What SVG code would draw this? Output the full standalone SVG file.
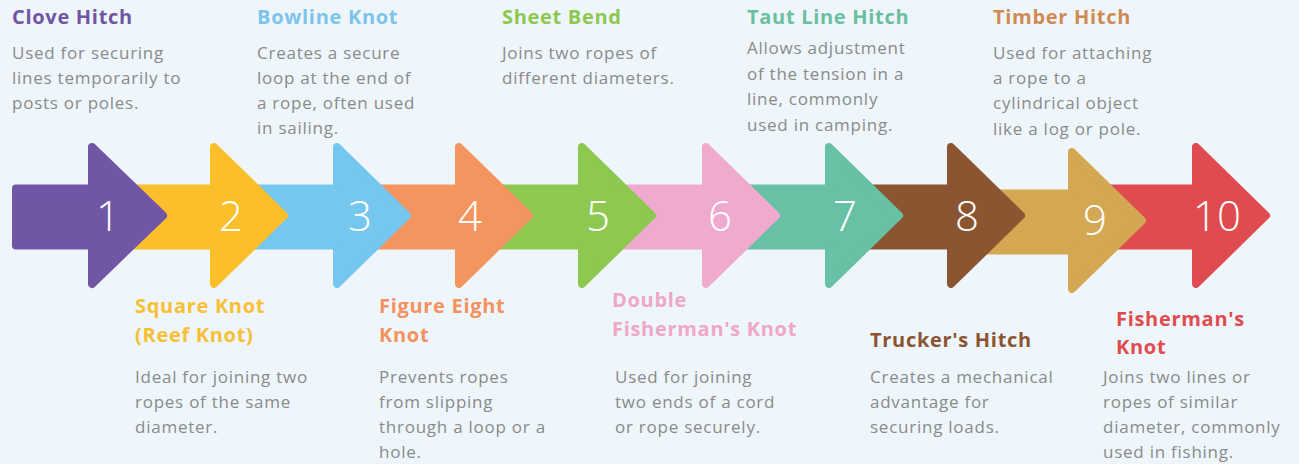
<svg xmlns="http://www.w3.org/2000/svg" xmlns:xlink="http://www.w3.org/1999/xlink" width="1299" height="464" viewBox="0 0 1299 464">
<style>
.bg{fill:#eef6fb}
.arr{stroke-width:8;stroke-linejoin:round}
.num{font-family:"Open Sans","Liberation Sans",sans-serif;font-size:42px;font-weight:300;fill:#ffffff;text-anchor:middle}
.ttl{font-family:"Open Sans","Liberation Sans",sans-serif;font-size:20px;font-weight:700;letter-spacing:0.7px}
.dsc{font-family:"Open Sans","Liberation Sans",sans-serif;font-size:17px;fill:#8a8a8a;letter-spacing:0.75px}
</style>
<defs>
<path id="arr" d="M-88,-27 H4 V-68.5 L74,0 L4,68.5 V30 H-88 Z"/>
</defs>
<rect class="bg" x="0" y="0" width="1299" height="464"/>
<g id="connectors"></g>
<g id="arrows">
<g id="a10"><use xlink:href="#arr" class="arr" transform="translate(1192,215.5)" fill="#e04b4f" stroke="#e04b4f"/><text class="num" x="1217" y="231">10</text></g>
<g id="a9"><use xlink:href="#arr" class="arr" transform="translate(1068,220.5)" fill="#d4a852" stroke="#d4a852"/><text class="num" x="1095" y="235">9</text></g>
<g id="a8"><use xlink:href="#arr" class="arr" transform="translate(947,215.5)" fill="#8b5532" stroke="#8b5532"/><text class="num" x="967" y="231">8</text></g>
<g id="a7"><use xlink:href="#arr" class="arr" transform="translate(825,215.5)" fill="#68c1a5" stroke="#68c1a5"/><text class="num" x="845" y="231">7</text></g>
<g id="a6"><use xlink:href="#arr" class="arr" transform="translate(702,215.5)" fill="#f0aad0" stroke="#f0aad0"/><text class="num" x="720" y="231">6</text></g>
<g id="a5"><use xlink:href="#arr" class="arr" transform="translate(578,215.5)" fill="#8dc951" stroke="#8dc951"/><text class="num" x="598" y="231">5</text></g>
<g id="a4"><use xlink:href="#arr" class="arr" transform="translate(455,215.5)" fill="#f4955f" stroke="#f4955f"/><text class="num" x="470" y="231">4</text></g>
<g id="a3"><use xlink:href="#arr" class="arr" transform="translate(333,215.5)" fill="#76c7ef" stroke="#76c7ef"/><text class="num" x="360" y="231">3</text></g>
<g id="a2"><use xlink:href="#arr" class="arr" transform="translate(210,215.5)" fill="#fbbf2b" stroke="#fbbf2b"/><text class="num" x="231" y="231">2</text></g>
<g id="a1"><path class="arr" d="M16,188.5 H92 V147 L163,215.5 L92,284 V245.5 H16 Z" fill="#7156a6" stroke="#7156a6"/><text class="num" x="108" y="231">1</text></g>
</g>
<g id="n1"><text class="ttl" x="12" y="24" fill="#6f55a3">Clove Hitch</text>
<text class="dsc" x="12"><tspan x="12" y="59">Used for securing</tspan><tspan x="12" y="84">lines temporarily to</tspan><tspan x="12" y="109">posts or poles.</tspan></text></g>
<g id="n2"><text class="ttl" x="135" y="313" fill="#f8bf35">Square Knot</text><text class="ttl" x="135" y="342" fill="#f8bf35">(Reef Knot)</text>
<text class="dsc"><tspan x="135" y="383">Ideal for joining two</tspan><tspan x="135" y="408">ropes of the same</tspan><tspan x="135" y="433">diameter.</tspan></text></g>
<g id="n3"><text class="ttl" x="257" y="24" fill="#7cc4ec">Bowline Knot</text>
<text class="dsc"><tspan x="257" y="59">Creates a secure</tspan><tspan x="257" y="84">loop at the end of</tspan><tspan x="257" y="109">a rope, often used</tspan><tspan x="257" y="134">in sailing.</tspan></text></g>
<g id="n4"><text class="ttl" x="379" y="313" fill="#f4915d">Figure Eight</text><text class="ttl" x="379" y="342" fill="#f4915d">Knot</text>
<text class="dsc"><tspan x="379" y="383">Prevents ropes</tspan><tspan x="379" y="408">from slipping</tspan><tspan x="379" y="433">through a loop or a</tspan><tspan x="379" y="458">hole.</tspan></text></g>
<g id="n5"><text class="ttl" x="502" y="24" fill="#8cc850">Sheet Bend</text>
<text class="dsc"><tspan x="502" y="59">Joins two ropes of</tspan><tspan x="502" y="84">different diameters.</tspan></text></g>
<g id="n6"><text class="ttl" x="612" y="307" fill="#f0a6c9">Double</text><text class="ttl" x="612" y="336" fill="#f0a6c9">Fisherman's Knot</text>
<text class="dsc"><tspan x="615" y="383">Used for joining</tspan><tspan x="615" y="408">two ends of a cord</tspan><tspan x="615" y="433">or rope securely.</tspan></text></g>
<g id="n7"><text class="ttl" x="747" y="24" fill="#6bbfa1">Taut Line Hitch</text>
<text class="dsc"><tspan x="747" y="54">Allows adjustment</tspan><tspan x="747" y="80">of the tension in a</tspan><tspan x="747" y="105">line, commonly</tspan><tspan x="747" y="131">used in camping.</tspan></text></g>
<g id="n8"><text class="ttl" x="870" y="347" fill="#8b5532">Trucker's Hitch</text>
<text class="dsc"><tspan x="870" y="383">Creates a mechanical</tspan><tspan x="870" y="408">advantage for</tspan><tspan x="870" y="433">securing loads.</tspan></text></g>
<g id="n9"><text class="ttl" x="993" y="24" fill="#d08b52">Timber Hitch</text>
<text class="dsc"><tspan x="993" y="59">Used for attaching</tspan><tspan x="993" y="84">a rope to a</tspan><tspan x="993" y="109">cylindrical object</tspan><tspan x="993" y="135">like a log or pole.</tspan></text></g>
<g id="n10"><text class="ttl" x="1116" y="326" fill="#e04b4f">Fisherman's</text><text class="ttl" x="1116" y="354" fill="#e04b4f">Knot</text>
<text class="dsc"><tspan x="1103" y="383">Joins two lines or</tspan><tspan x="1103" y="408">ropes of similar</tspan><tspan x="1103" y="433">diameter, commonly</tspan><tspan x="1103" y="458">used in fishing.</tspan></text></g>
</svg>
